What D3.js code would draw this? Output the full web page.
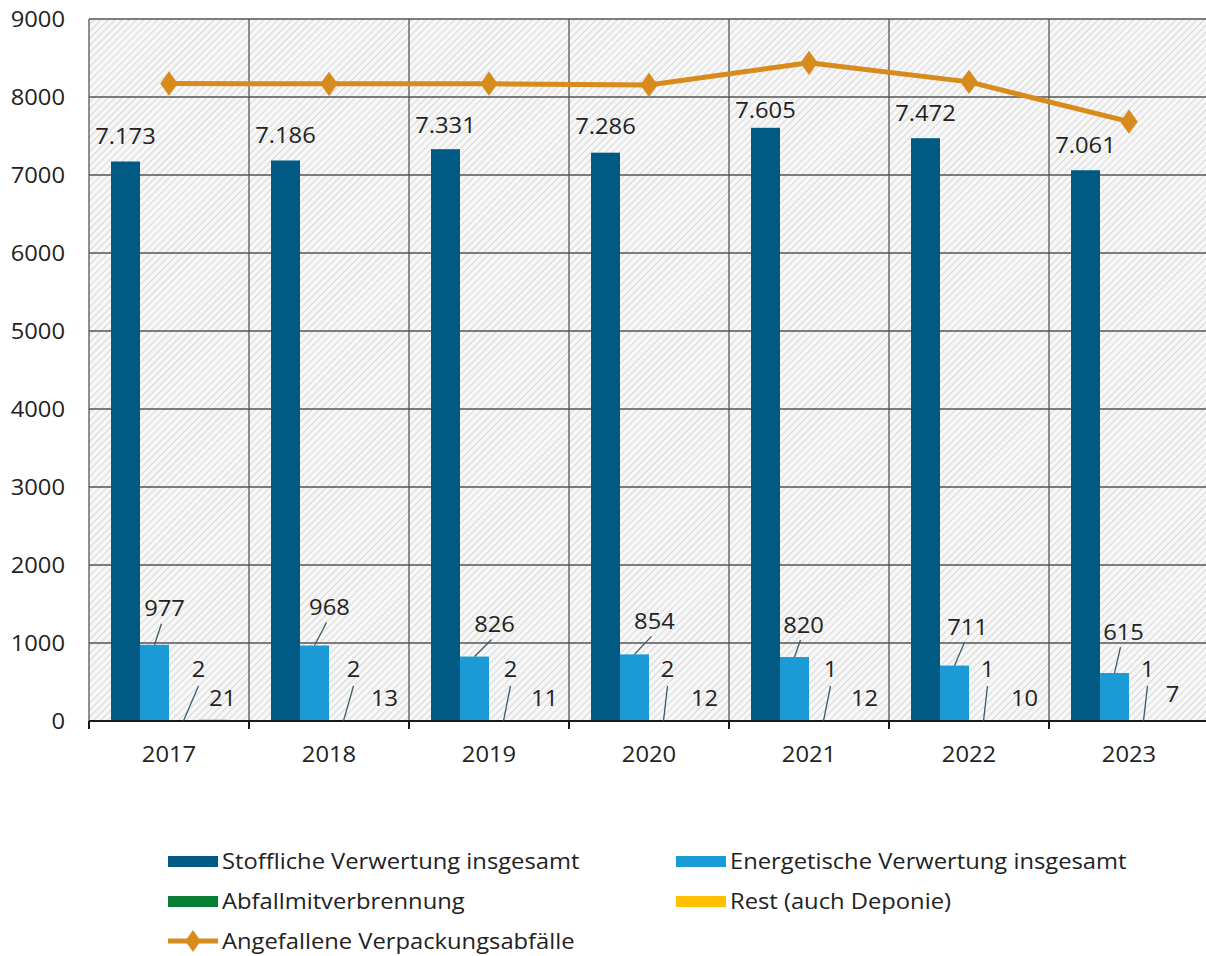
<!DOCTYPE html>
<html><head><meta charset="utf-8">
<script src="https://cdn.jsdelivr.net/npm/d3@7"></script>
<style>
html,body{margin:0;padding:0;background:#fff;}
svg{display:block;}
text{font-family:"Open Sans",sans-serif;fill:#222;}
</style></head>
<body>
<svg id="chart" width="1206" height="956"></svg>
<script>
// ---- data ----
const years = ["2017","2018","2019","2020","2021","2022","2023"];
const stofflich = [7173,7186,7331,7286,7605,7472,7061];
const energetisch = [977,968,826,854,820,711,615];
const mitverbrennung = [2,2,2,2,1,1,1];
const rest = [21,13,11,12,12,10,7];
const angefallen = [8173,8169,8170,8154,8438,8194,7684];
const yTicks = [0,1000,2000,3000,4000,5000,6000,7000,8000,9000];
const seriesNames = ["Stoffliche Verwertung insgesamt","Energetische Verwertung insgesamt","Abfallmitverbrennung","Rest (auch Deponie)"];
const lineName = "Angefallene Verpackungsabfälle";

// ---- layout / styling (not data) ----
const colors = ["#005a83","#1a9bd6","#0a7d34","#ffc000"];
const lineColor = "#d68b1c";
const FS = "22px";
const STRETCH = 1.08;
const plot = {left:89, top:19, right:1209, bottom:721};
const darkLabelDy = [25,25,24,26,18,25,25];
const lightLabelOff = [[10,36],[15,38],[20,32],[20,33],[9,32],[13,38],[9,41]];
const greenLabelDx = [15,10,7,4,7,4,4];
const restLabelDx = [10,12,12,12,12,12,0];

const de = d3.formatLocale({decimal:",",thousands:".",grouping:[3],currency:["","€"]});
const fmt = de.format(",");

const svg = d3.select("#chart");
const defs = svg.append("defs");
const pat = defs.append("pattern").attr("id","hatch").attr("patternUnits","userSpaceOnUse")
  .attr("width",5).attr("height",5).attr("patternTransform","rotate(45)");
pat.append("rect").attr("width",5).attr("height",5).attr("fill","#f7f7f7");
pat.append("line").attr("x1",0).attr("y1",0).attr("x2",0).attr("y2",5)
  .attr("stroke","#cdcdcd").attr("stroke-width",1.5);

const x = d3.scaleBand().domain(years).range([plot.left, plot.right]).paddingInner(0).paddingOuter(0);
const x1 = d3.scaleBand().domain(d3.range(4)).range([22, 138]).padding(0);
const y = d3.scaleLinear().domain([0,9000]).range([plot.bottom, plot.top]);

// background
svg.append("rect").attr("x",plot.left).attr("y",plot.top)
  .attr("width",plot.right-plot.left).attr("height",plot.bottom-plot.top).attr("fill","url(#hatch)");

// horizontal grid
svg.append("g").selectAll("line").data(yTicks).join("line")
  .attr("x1",plot.left).attr("x2",plot.right)
  .attr("y1",d=>y(d)).attr("y2",d=>y(d))
  .attr("stroke","#555").attr("stroke-width",1.3);
// vertical grid
const bounds = years.map(d=>x(d)).concat([plot.right]);
svg.append("g").selectAll("line").data(bounds).join("line")
  .attr("x1",d=>d).attr("x2",d=>d).attr("y1",plot.top).attr("y2",plot.bottom)
  .attr("stroke","#555").attr("stroke-width",1.3);

// y axis labels
const yAxis = d3.axisLeft(y).tickValues(yTicks).tickSize(0).tickPadding(24).tickFormat(d3.format("d"));
const gy = svg.append("g").attr("transform",`translate(${plot.left},0)`).call(yAxis);
gy.select(".domain").remove();
gy.selectAll("text").style("font-family","'Open Sans',sans-serif").style("font-size",FS).attr("fill","#222");

// bars
const seriesVals = [stofflich, energetisch, mitverbrennung, rest];
const gBars = svg.append("g");
years.forEach((yr,i)=>{
  seriesVals.forEach((vals,s)=>{
    gBars.append("rect")
      .attr("x", x(yr)+x1(s)).attr("width", x1.bandwidth())
      .attr("y", y(vals[i])).attr("height", y(0)-y(vals[i]))
      .attr("fill", colors[s]);
  });
});

// x axis
const xAxis = d3.axisBottom(x).tickSize(0).tickPadding(25);
const gx = svg.append("g").attr("transform",`translate(0,${plot.bottom})`).call(xAxis);
gx.select(".domain").remove();
gx.selectAll("text").style("font-family","'Open Sans',sans-serif").style("font-size",FS).attr("fill","#222");
svg.append("line").attr("x1",plot.left).attr("x2",plot.right).attr("y1",plot.bottom).attr("y2",plot.bottom)
  .attr("stroke","#1a1a1a").attr("stroke-width",2);
svg.append("g").selectAll("line").data(bounds).join("line")
  .attr("x1",d=>d).attr("x2",d=>d).attr("y1",plot.bottom).attr("y2",plot.bottom+8)
  .attr("stroke","#1a1a1a").attr("stroke-width",2);

// line
const cx = d=>x(d)+x.bandwidth()/2;
const lineGen = d3.line().x((d,i)=>cx(years[i])).y(d=>y(d));
svg.append("path").datum(angefallen).attr("d",lineGen).attr("fill","none")
  .attr("stroke",lineColor).attr("stroke-width",5).attr("stroke-linejoin","round");
const diamond = d3.symbol().type(d3.symbolDiamond).size(170);
svg.append("g").selectAll("path").data(angefallen).join("path")
  .attr("d",diamond)
  .attr("transform",(d,i)=>`translate(${cx(years[i])},${y(d)}) scale(1.25,1)`)
  .attr("fill",lineColor);

// labels
const gL = svg.append("g").style("font-size",FS);
years.forEach((yr,i)=>{
  const bx = s=>x(yr)+x1(s)+x1.bandwidth()/2;
  // dark
  gL.append("text").attr("x",bx(0)).attr("y",y(stofflich[i])-darkLabelDy[i])
    .attr("text-anchor","middle").attr("dy","0.35em").text(fmt(stofflich[i]));
  // light
  const lx = bx(1)+lightLabelOff[i][0], ly = y(energetisch[i])-lightLabelOff[i][1];
  gL.append("text").attr("x",lx).attr("y",ly).attr("text-anchor","middle").attr("dy","0.35em").text(fmt(energetisch[i]));
  gL.append("line").attr("x1",bx(1)).attr("y1",y(energetisch[i])).attr("x2",lx-3).attr("y2",ly+15)
    .attr("stroke","#3b5a6a").attr("stroke-width",1.3);
  // green
  const gxp = bx(2)+greenLabelDx[i], gyp = y(0)-52;
  gL.append("text").attr("x",gxp).attr("y",gyp).attr("text-anchor","middle").attr("dy","0.35em").text(fmt(mitverbrennung[i]));
  gL.append("line").attr("x1",bx(2)).attr("y1",y(mitverbrennung[i])).attr("x2",gxp).attr("y2",gyp+17)
    .attr("stroke","#3b5a6a").attr("stroke-width",1.3);
  // rest
  gL.append("text").attr("x",bx(3)+restLabelDx[i]).attr("y",y(0)-(i===6?27:23))
    .attr("text-anchor","middle").attr("dy","0.35em").text(fmt(rest[i]));
});

// legend
const legend = svg.append("g").style("font-size",FS);
const legItems = [
  {name:seriesNames[0], c:colors[0], x:168, y:861},
  {name:seriesNames[1], c:colors[1], x:676, y:861},
  {name:seriesNames[2], c:colors[2], x:168, y:901},
  {name:seriesNames[3], c:colors[3], x:676, y:901}
];
legItems.forEach(it=>{
  legend.append("rect").attr("x",it.x).attr("y",it.y-5).attr("width",50).attr("height",11).attr("fill",it.c);
  legend.append("text").attr("x",it.x+54).attr("y",it.y).attr("dy","0.35em").text(it.name);
});
legend.append("line").attr("x1",168).attr("x2",218).attr("y1",941).attr("y2",941)
  .attr("stroke",lineColor).attr("stroke-width",5);
legend.append("path").attr("d",diamond).attr("transform","translate(193,941) scale(1.1,0.9)").attr("fill",lineColor);
legend.append("text").attr("x",222).attr("y",941).attr("dy","0.35em").text(lineName);

// slight horizontal stretch of all text (reference font is wide), anchored at each text's x
svg.selectAll("text").each(function(){
  const t = d3.select(this);
  const tx = +t.attr("x") || 0;
  t.attr("transform",`translate(${tx},0) scale(${STRETCH},1) translate(${-tx},0)`);
});
</script>
</body></html>
